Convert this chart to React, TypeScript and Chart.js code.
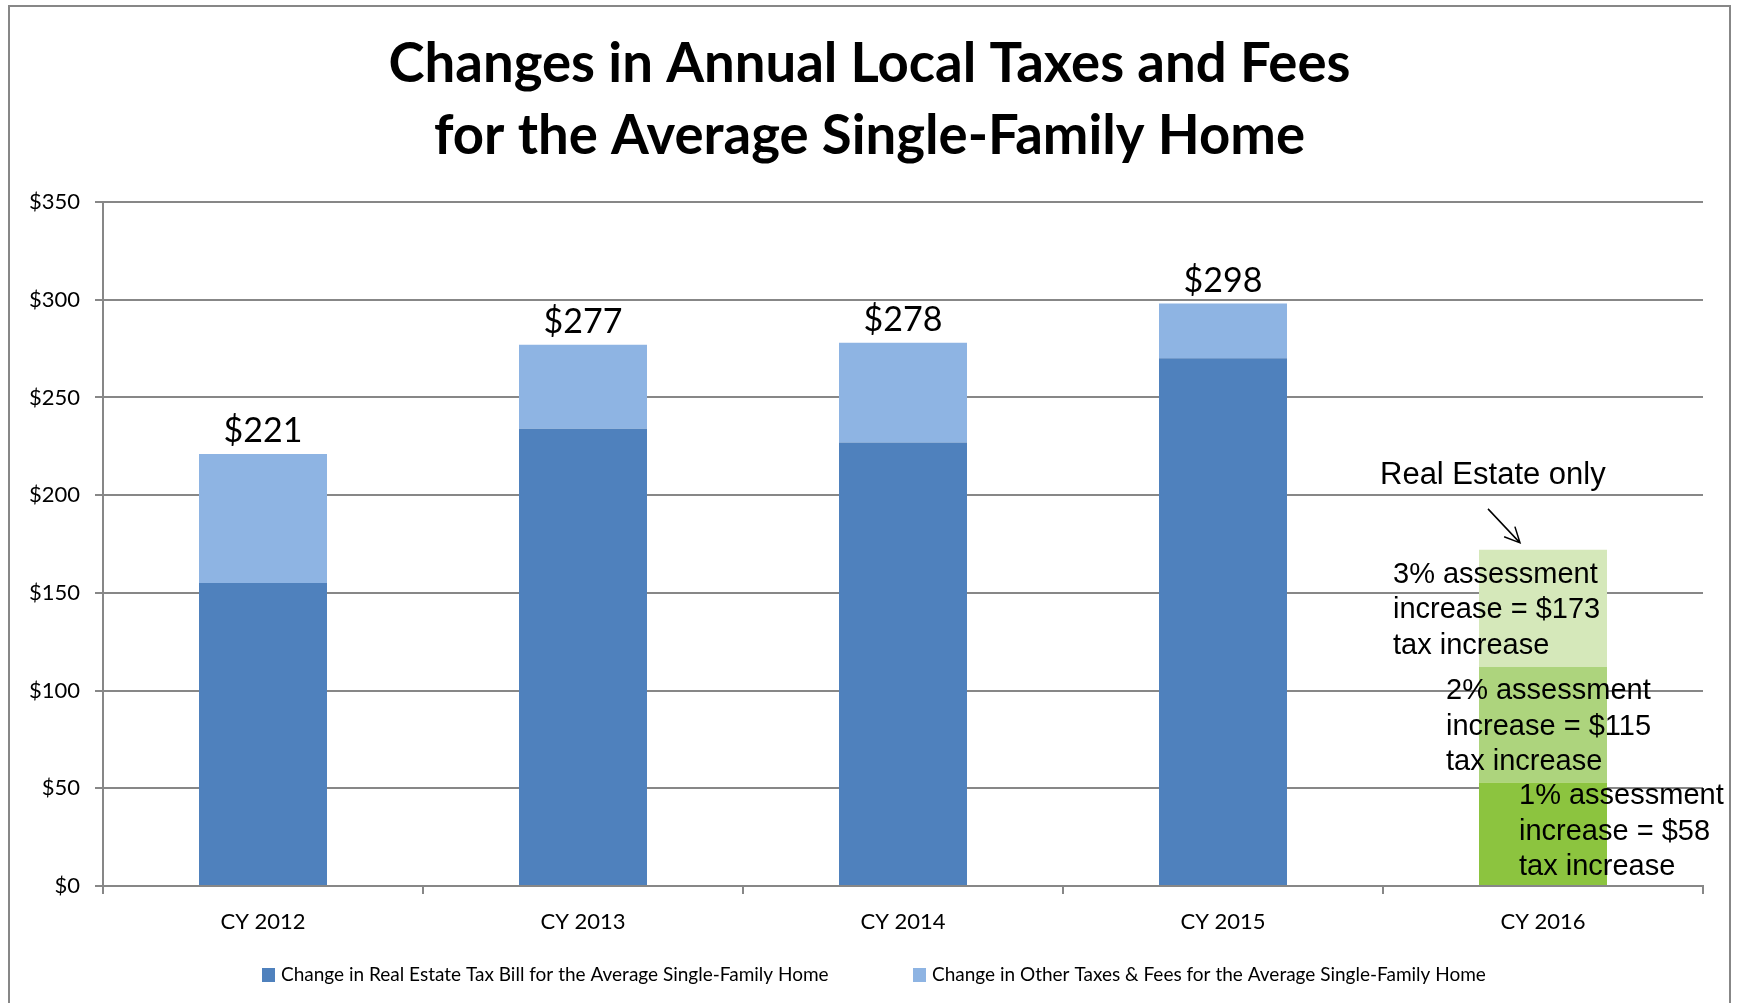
import React, { useEffect, useRef } from "react";
import { Chart, registerables } from "chart.js";

Chart.register(...registerables);

const categories = ["CY 2012", "CY 2013", "CY 2014", "CY 2015", "CY 2016"];
const realEstate = [155, 234, 227, 270, null];
const otherFees = [66, 43, 51, 28, null];
const assess1 = [null, null, null, null, 53];
const assess2Extra = [null, null, null, null, 59];
const assess3Extra = [null, null, null, null, 60];
const totalLabels = ["$221", "$277", "$278", "$298"];
const yTicks = [0, 50, 100, 150, 200, 250, 300, 350];
const legendLabels = [
  "Change in Real Estate Tax Bill for the Average Single-Family Home",
  "Change in Other Taxes & Fees for the Average Single-Family Home",
];
const noteLines3 = ["3% assessment", "increase = $173", "tax increase"];
const noteLines2 = ["2% assessment", "increase = $115", "tax increase"];
const noteLines1 = ["1% assessment", "increase = $58", "tax increase"];
const noteTitle = "Real Estate only";

const DARK_BLUE = "#4F81BD";
const LIGHT_BLUE = "#8EB4E3";
const GREEN1 = "#8CC43F";
const GREEN2 = "#ADD47D";
const GREEN3 = "#D5E8BA";
const GRID = "#878787";

const framePlugin = {
  id: "frame",
  beforeDraw(chart: any) {
    const ctx = chart.ctx;
    ctx.save();
    ctx.fillStyle = "#fff";
    ctx.fillRect(0, 0, chart.width, chart.height);
    ctx.strokeStyle = GRID;
    ctx.lineWidth = 2;
    ctx.beginPath();
    ctx.moveTo(9, chart.height + 10);
    ctx.lineTo(9, 6);
    ctx.lineTo(1730, 6);
    ctx.lineTo(1730, chart.height + 10);
    ctx.stroke();
    ctx.restore();
  },
};

const annotationPlugin = {
  id: "annot",
  afterDatasetsDraw(chart: any) {
    const ctx = chart.ctx;
    const xs = chart.scales.x;
    const ys = chart.scales.y;
    ctx.save();
    // totals above blue bars
    ctx.font = "34px Lato";
    ctx.fillStyle = "#000";
    ctx.textAlign = "center";
    ctx.textBaseline = "middle";
    for (let i = 0; i < totalLabels.length; i++) {
      const tot = (realEstate[i] as number) + (otherFees[i] as number);
      const x = xs.getPixelForValue(i);
      const y = ys.getPixelForValue(tot) - 23;
      ctx.fillText(totalLabels[i], x, y);
    }
    // CY 2016 notes
    const cx = xs.getPixelForValue(4);
    const t1 = assess1[4] as number;
    const t2 = t1 + (assess2Extra[4] as number);
    const t3 = t2 + (assess3Extra[4] as number);
    const y1 = ys.getPixelForValue(t1);
    const y2 = ys.getPixelForValue(t2);
    const y3 = ys.getPixelForValue(t3);
    ctx.textAlign = "left";
    ctx.font = "29px 'Liberation Sans'";
    const lh = 35.5;
    noteLines3.forEach((s, k) => ctx.fillText(s, cx - 150, y3 + 25 + k * lh));
    noteLines2.forEach((s, k) => ctx.fillText(s, cx - 97, y2 + 24 + k * lh));
    noteLines1.forEach((s, k) => ctx.fillText(s, cx - 24, y1 + 14 + k * lh));
    ctx.font = "31px 'Liberation Sans'";
    ctx.fillText(noteTitle, cx - 163, y3 - 74);
    // arrow
    const ax0 = cx - 55, ay0 = y3 - 41, ax1 = cx - 23, ay1 = y3 - 7;
    ctx.strokeStyle = "#000";
    ctx.lineWidth = 1.5;
    ctx.beginPath();
    ctx.moveTo(ax0, ay0);
    ctx.lineTo(ax1, ay1);
    const ang = Math.atan2(ay1 - ay0, ax1 - ax0);
    const hl = 17;
    ctx.moveTo(ax1 - hl * Math.cos(ang - 0.45), ay1 - hl * Math.sin(ang - 0.45));
    ctx.lineTo(ax1, ay1);
    ctx.lineTo(ax1 - hl * Math.cos(ang + 0.45), ay1 - hl * Math.sin(ang + 0.45));
    ctx.stroke();
    ctx.restore();
  },
  afterDraw(chart: any) {
    const ctx = chart.ctx;
    ctx.save();
    ctx.font = "19px Lato";
    ctx.textBaseline = "middle";
    ctx.textAlign = "left";
    const colors = [DARK_BLUE, LIGHT_BLUE];
    const starts = [262, 913];
    const cy = 975;
    legendLabels.forEach((s, i) => {
      ctx.fillStyle = colors[i];
      ctx.fillRect(starts[i], cy - 7, 13, 14);
      ctx.fillStyle = "#000";
      ctx.fillText(s, starts[i] + 19, cy);
    });
    ctx.restore();
  },
};

export default function App() {
  const ref = useRef<HTMLCanvasElement>(null);
  useEffect(() => {
    document.body.style.margin = "0";
    const chart = new Chart(ref.current as HTMLCanvasElement, {
      type: "bar",
      data: {
        labels: categories,
        datasets: [
          { label: legendLabels[0], data: realEstate, backgroundColor: DARK_BLUE },
          { label: legendLabels[1], data: otherFees, backgroundColor: LIGHT_BLUE },
          { label: "1%", data: assess1, backgroundColor: GREEN1 },
          { label: "2%", data: assess2Extra, backgroundColor: GREEN2 },
          { label: "3%", data: assess3Extra, backgroundColor: GREEN3 },
        ] as any,
      },
      options: {
        responsive: false,
        animation: false,
        devicePixelRatio: 1,
        datasets: { bar: { barPercentage: 0.5, categoryPercentage: 0.8 } } as any,
        layout: { padding: { top: 0, left: 0, right: 0, bottom: 57 } },
        plugins: {
          legend: { display: false },
          tooltip: { enabled: false },
          title: {
            display: true,
            text: [
              "Changes in Annual Local Taxes and Fees",
              "for the Average Single-Family Home",
            ],
            color: "#000",
            font: { family: "Lato", weight: "bold", size: 54.5, lineHeight: "72px" } as any,
            padding: { top: 28, bottom: 30 },
          },
        },
        scales: {
          x: {
            stacked: true,
            grid: { drawOnChartArea: false, drawTicks: true, tickLength: 8, color: GRID, lineWidth: 2 },
            border: { color: GRID, width: 2 },
            ticks: { color: "#000", font: { family: "Lato", size: 22 }, padding: 15 },
            afterFit: (s: any) => { s.height = 60; },
          },
          y: {
            stacked: true,
            min: yTicks[0],
            max: yTicks[yTicks.length - 1],
            grid: { color: GRID, lineWidth: 2, tickLength: 8 },
            border: { color: GRID, width: 2 },
            ticks: {
              stepSize: 50,
              color: "#000",
              font: { family: "Lato", size: 22 },
              padding: 15,
              callback: (v: any) => "$" + v,
            },
            afterFit: (s: any) => { s.width = 103; },
          },
          yPad: {
            position: "right",
            display: true,
            grid: { display: false, drawTicks: false },
            border: { display: false },
            ticks: { display: false },
            afterFit: (s: any) => { s.width = 36; },
          },
        },
      },
      plugins: [framePlugin, annotationPlugin],
    });
    return () => chart.destroy();
  }, []);
  return <canvas ref={ref} width={1739} height={1003} style={{ display: "block" }} />;
}
